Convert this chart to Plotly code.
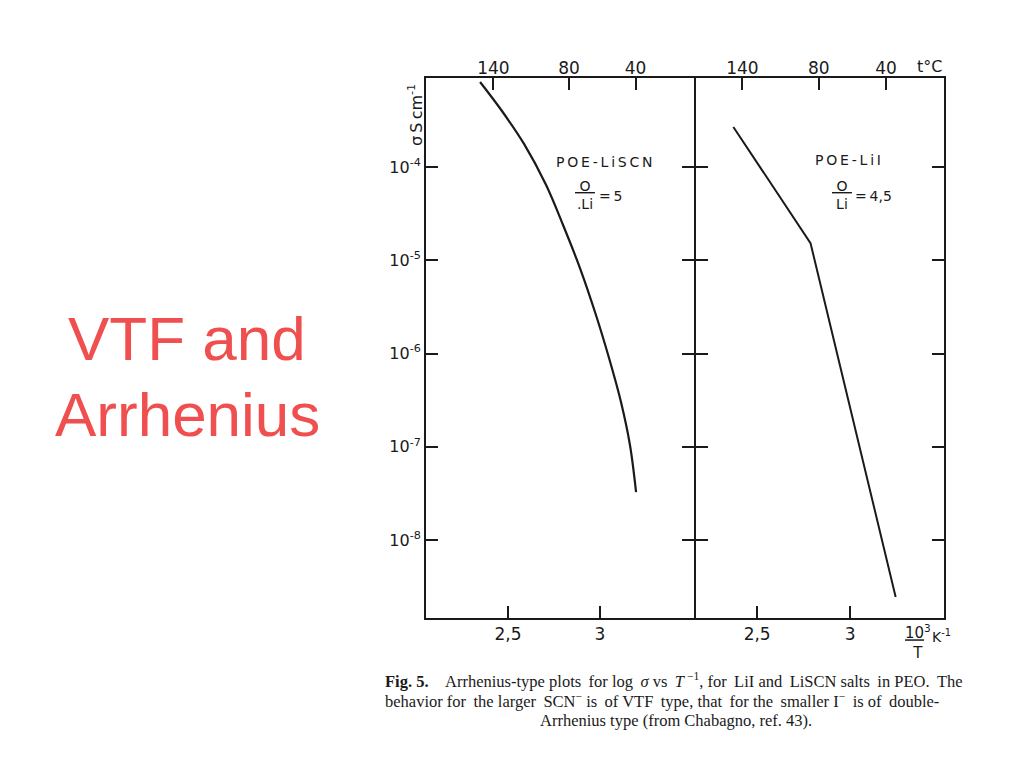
import plotly.graph_objects as go

W, H = 1024, 768
INK = "#1a1a1a"
RED = "#F04F4F"

# ---- data ----
# Left panel: POE-LiSCN (VTF type), x = 10^3/T (K^-1), y = sigma (S/cm)
inv_T_scn = [2.348, 2.467, 2.587, 2.707, 2.799, 2.891, 2.978, 3.049, 3.114, 3.163, 3.196]
sigma_scn = [8.17e-4, 3.99e-4, 1.77e-4, 6.41e-5, 2.39e-5, 8.26e-6, 2.59e-6, 8.95e-7, 3.02e-7, 1.04e-7, 3.27e-8]
# Right panel: POE-LiI (double Arrhenius)
inv_T_lii = [2.372, 2.787, 3.245]
sigma_lii = [2.69e-4, 1.53e-5, 2.45e-9]

# axes
bottom_ticks = [2.5, 3.0]
bottom_labels = ["2,5", "3"]
top_temps_c = [140, 80, 40]
top_labels = ["140", "80", "40"]
y_ticks = [1e-4, 1e-5, 1e-6, 1e-7, 1e-8]
y_labels = ["10<sup>-4</sup>", "10<sup>-5</sup>", "10<sup>-6</sup>", "10<sup>-7</sup>", "10<sup>-8</sup>"]

left_xrange = [2.054, 3.511]
right_xrange = [2.171, 3.505]
y_logrange = [-8.836, -3.045]

top_tickvals = [1000.0 / (t + 273.15) for t in top_temps_c]


def px(x):
    return x / W


def py(y):
    return 1 - y / H


fig = go.Figure()
fig.add_trace(go.Scatter(x=inv_T_scn, y=sigma_scn, mode="lines",
                         line=dict(color=INK, width=2.2, shape="spline", smoothing=1.0),
                         xaxis="x", yaxis="y", showlegend=False, hoverinfo="skip"))
fig.add_trace(go.Scatter(x=inv_T_lii, y=sigma_lii, mode="lines",
                         line=dict(color=INK, width=2),
                         xaxis="x2", yaxis="y2", showlegend=False, hoverinfo="skip"))
# invisible companions so the top (temperature) axes are drawn
fig.add_trace(go.Scatter(x=inv_T_scn, y=sigma_scn, mode="lines",
                         line=dict(color="rgba(0,0,0,0)", width=0),
                         xaxis="x3", yaxis="y", showlegend=False, hoverinfo="skip"))
fig.add_trace(go.Scatter(x=inv_T_lii, y=sigma_lii, mode="lines",
                         line=dict(color="rgba(0,0,0,0)", width=0),
                         xaxis="x4", yaxis="y2", showlegend=False, hoverinfo="skip"))

sans = "DejaVu Sans, Verdana, sans-serif"
serif = "Liberation Serif, Times New Roman, serif"

xtickfont = dict(family=sans, size=17, color=INK)
ytickfont = dict(family=sans, size=16, color=INK)
common = dict(showgrid=False, zeroline=False, ticks="inside", tickcolor=INK,
              tickwidth=2, ticklen=12)

xdom_left = [px(426), px(694)]
xdom_right = [px(696), px(944)]
ydom = [py(618), py(78)]

fig.update_layout(
    width=W, height=H,
    margin=dict(l=0, r=0, t=0, b=0),
    paper_bgcolor="white", plot_bgcolor="white",
    xaxis=dict(domain=xdom_left, range=left_xrange, anchor="y", showline=True,
               linecolor=INK, linewidth=2, mirror=True, tickfont=xtickfont,
               tickvals=bottom_ticks, ticktext=bottom_labels, **common),
    xaxis2=dict(domain=xdom_right, range=right_xrange, anchor="y2", showline=True,
                linecolor=INK, linewidth=2, mirror=True, tickfont=xtickfont,
                tickvals=bottom_ticks, ticktext=bottom_labels, **common),
    xaxis3=dict(overlaying="x", side="top", anchor="y", range=left_xrange,
                showline=False, tickvals=top_tickvals, ticktext=top_labels,
                tickfont=xtickfont, **common),
    xaxis4=dict(overlaying="x2", side="top", anchor="y2", range=right_xrange,
                showline=False, tickvals=top_tickvals, ticktext=top_labels,
                tickfont=xtickfont, **common),
    yaxis=dict(domain=ydom, type="log", range=y_logrange, anchor="x", showline=True,
               linecolor=INK, linewidth=2, mirror="ticks", tickfont=ytickfont,
               tickvals=y_ticks, ticktext=y_labels, **common),
    yaxis2=dict(domain=ydom, type="log", range=y_logrange, anchor="x2", showline=True,
                linecolor=INK, linewidth=2, mirror="ticks",
                tickvals=y_ticks, showticklabels=False, **common),
)

ann = []


def text(x, y, s, size=16, family=sans, color=INK, xanchor="center", yanchor="middle", angle=0):
    ann.append(dict(x=px(x), y=py(y), xref="paper", yref="paper", text=s, showarrow=False,
                    font=dict(family=family, size=size, color=color),
                    xanchor=xanchor, yanchor=yanchor, textangle=angle))


TS = "\u2009"  # thin space, imitates the wide letter spacing of the scan


def justify(s, every):
    # widen every n-th word gap with a thin space so the line fills the column
    parts = s.split(" ")
    out = parts[0]
    for i, p in enumerate(parts[1:], start=1):
        out += (" " + TS if i % every == 0 else " ") + p
    return out


# slide title
text(187, 338, "VTF and", size=62, color=RED, family="Liberation Sans, Arial, sans-serif")
text(187, 414, "Arrhenius", size=62, color=RED, family="Liberation Sans, Arial, sans-serif")

# axis titles
text(415, 115, "σ" + TS + "S" + TS + "cm<sup>-1</sup>", size=16, angle=-90)
text(929, 66, "t°C", size=16)
text(918, 642, "<u>10</u><sup>3</sup><br>T", size=15)
text(941, 636, "K<sup>-1</sup>", size=14)

# panel labels
text(604, 162, TS.join("POE-LiSCN"), size=14)
text(585, 195, "<u>\u00a0O\u00a0</u><br>.Li", size=14)
text(597, 196, "=" + TS + "5", size=14, xanchor="left")
text(848, 160, TS.join("POE-LiI"), size=14)
text(842, 195, "<u>\u00a0O\u00a0</u><br>Li", size=14)
text(853, 196, "=" + TS + "4,5", size=14, xanchor="left")

# caption
cap_size = 16.5
line1 = "Arrhenius-type plots for log <i>σ</i> vs <i>T</i><sup>\u00a0−1</sup>, for LiI and LiSCN salts in PEO. The"
line2 = "behavior for the larger SCN<sup>−</sup> is of VTF type, that for the smaller I<sup>−</sup> is of double-"
text(383, 680, "<b>Fig.\u00a05.</b>\u00a0\u00a0\u00a0\u00a0" + justify(line1, 2),
     size=cap_size, family=serif, xanchor="left")
text(383, 700, justify(line2, 2), size=cap_size, family=serif, xanchor="left")
text(676, 720, "Arrhenius type (from Chabagno, ref. 43).", size=cap_size, family=serif)

fig.update_layout(annotations=ann)
fig.write_html("out.html", config={"displayModeBar": False},
               post_script="document.body.style.margin='0px';")
